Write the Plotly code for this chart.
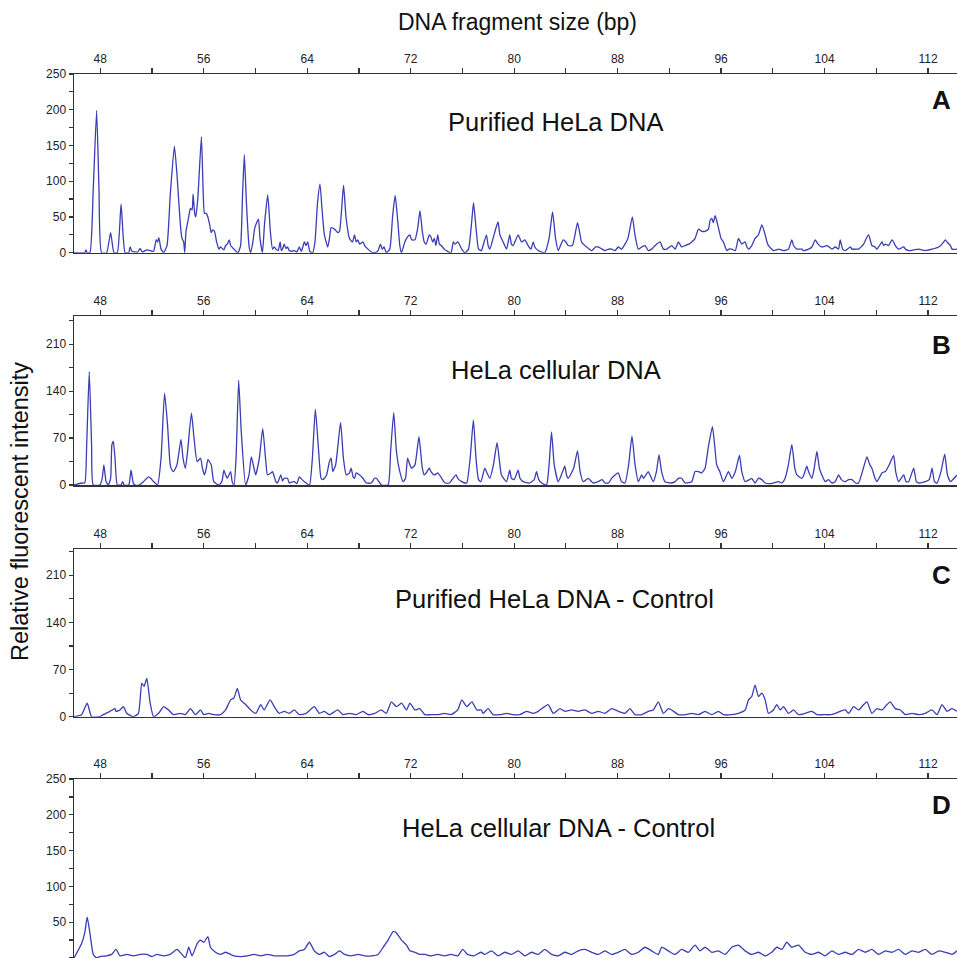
import plotly.graph_objects as go

# ---------------- data ----------------
a_bp = [45.97, 46.80, 46.89, 46.99, 47.20, 47.46, 47.72, 47.90, 48.10, 48.49, 48.80, 49.06, 49.32, 49.61, 49.92,
        50.20, 50.31, 50.45, 50.90, 51.08, 51.25, 51.60, 51.86, 52.12, 52.33, 52.43, 52.53, 52.70, 52.90, 53.16,
        53.41, 53.73, 53.93, 54.19, 54.32, 54.45, 54.53, 54.63, 54.84, 54.97, 55.10, 55.18, 55.30, 55.38, 55.54,
        55.82, 55.95, 56.06, 56.20, 56.32, 56.45, 56.58, 56.70, 56.83, 57.00, 57.17, 57.30, 57.56, 57.69, 57.82,
        57.97, 58.08, 58.34, 58.50, 58.65, 58.85, 59.00, 59.14, 59.30, 59.50, 59.63, 59.80, 59.95, 60.23, 60.35,
        60.54, 60.70, 60.95, 61.15, 61.32, 61.45, 61.58, 61.75, 61.91, 62.00, 62.09, 62.22, 62.35, 62.48, 62.61,
        62.80, 63.00, 63.20, 63.39, 63.55, 63.78, 63.91, 64.04, 64.20, 64.42, 64.60, 64.80, 64.99, 65.15, 65.33,
        65.59, 65.72, 65.85, 66.11, 66.37, 66.50, 66.81, 67.00, 67.27, 67.50, 67.66, 67.79, 67.92, 68.05, 68.31,
        68.44, 68.70, 68.96, 69.22, 69.48, 69.66, 69.80, 69.94, 70.12, 70.38, 70.60, 70.80, 71.00, 71.16, 71.29,
        71.55, 71.76, 71.94, 72.07, 72.33, 72.55, 72.72, 72.90, 73.05, 73.20, 73.44, 73.57, 73.70, 73.83, 73.95,
        74.09, 74.22, 74.35, 74.61, 74.74, 75.12, 75.30, 75.44, 75.64, 75.95, 76.20, 76.47, 76.70, 76.86, 77.05,
        77.25, 77.47, 77.60, 77.86, 77.99, 78.12, 78.37, 78.60, 78.76, 78.90, 79.15, 79.41, 79.66, 79.79, 79.92,
        80.31, 80.57, 80.83, 81.08, 81.30, 81.47, 81.60, 81.86, 82.37, 82.70, 82.97, 83.20, 83.41, 83.79, 84.00,
        84.18, 84.50, 84.90, 85.10, 85.21, 85.60, 85.99, 86.30, 86.50, 86.80, 87.02, 87.30, 87.54, 87.80, 88.05,
        88.30, 88.57, 88.80, 89.14, 89.34, 89.60, 89.86, 90.12, 90.37, 90.63, 90.90, 91.28, 91.54, 91.80, 92.18,
        92.45, 92.70, 92.95, 93.21, 93.50, 93.73, 93.99, 94.25, 94.50, 94.76, 95.02, 95.15, 95.28, 95.40, 95.54,
        95.66, 95.79, 96.00, 96.18, 96.44, 96.60, 96.83, 97.10, 97.34, 97.50, 97.60, 97.86, 98.00, 98.12, 98.37,
        98.63, 98.89, 99.15, 99.41, 99.55, 99.66, 100.05, 100.44, 100.83, 101.21, 101.47, 101.60, 101.86, 102.25,
        102.37, 102.76, 103.02, 103.28, 103.50, 103.79, 104.20, 104.57, 104.83, 105.08, 105.21, 105.40, 105.60,
        106.00, 106.12, 106.50, 106.63, 107.02, 107.28, 107.41, 107.66, 107.90, 108.05, 108.44, 108.57, 108.70,
        108.95, 109.21, 109.34, 109.47, 109.73, 110.12, 110.25, 110.50, 110.90, 111.28, 111.79, 112.31, 112.83,
        113.08, 113.34, 113.47, 113.73, 113.86, 114.24]
a_val = [0, 0, 4, 0, 0, 90, 199, 90, 0, 0, 28, 0, 0, 68, 0,
         0, 8, 2, 1, 6, 1, 4, 3, 2, 18, 15, 21, 5, 0, 10,
         80, 149, 110, 40, 20, 15, 0, 30, 50, 62, 60, 82, 55, 50, 75,
         162, 90, 55, 55, 50, 40, 28, 32, 30, 15, 5, 8, 4, 10, 12,
         18, 10, 5, 2, 0, 10, 80, 137, 70, 10, 0, 15, 35, 47, 20,
         0, 40, 81, 30, 5, 8, 5, 3, 15, 3, 5, 12, 6, 8, 3,
         2, 3, 1, 8, 2, 15, 10, 15, 2, 0, 15, 70, 96, 60, 25,
         8, 20, 35, 33, 28, 30, 94, 50, 20, 15, 25, 15, 18, 12, 15,
         10, 5, 1, 0, 3, 12, 5, 8, 0, 5, 50, 80, 45, 10, 0,
         15, 22, 25, 18, 18, 35, 59, 30, 15, 12, 25, 22, 15, 20, 10,
         25, 12, 10, 5, 3, 0, 15, 12, 15, 5, 0, 5, 40, 70, 35,
         5, 3, 10, 25, 10, 5, 20, 35, 43, 25, 15, 5, 25, 12, 10,
         25, 15, 18, 10, 5, 15, 8, 3, 0, 20, 57, 20, 3, 18, 15,
         10, 10, 42, 25, 15, 8, 3, 8, 8, 5, 3, 5, 5, 3, 8,
         5, 12, 20, 50, 25, 5, 8, 10, 3, 5, 10, 15, 5, 5, 10,
         5, 15, 8, 10, 12, 15, 20, 33, 30, 30, 33, 45, 48, 42, 52,
         45, 35, 20, 15, 3, 5, 5, 3, 20, 15, 12, 15, 8, 5, 10,
         20, 25, 39, 25, 15, 10, 3, 5, 3, 5, 18, 10, 5, 5,
         3, 5, 8, 18, 12, 8, 10, 5, 8, 5, 18, 5, 3,
         8, 5, 5, 5, 12, 22, 25, 10, 8, 5, 15, 10, 12,
         10, 18, 15, 10, 5, 8, 5, 3, 4, 5, 3, 5, 8,
         12, 18, 15, 10, 5, 5]

b_bp = [45.97, 46.55, 46.80, 46.95, 47.15, 47.33, 47.46, 47.97, 48.15, 48.28, 48.45, 48.62, 48.80, 48.90, 49.01,
        49.14, 49.32, 49.60, 49.74, 49.85, 50.20, 50.38, 50.55, 50.69, 51.00, 51.34, 51.73, 51.90, 52.12, 52.43,
        52.70, 52.97, 53.20, 53.41, 53.55, 53.67, 53.93, 54.24, 54.40, 54.58, 54.75, 55.05, 55.25, 55.49, 55.75,
        55.90, 56.06, 56.20, 56.32, 56.58, 56.78, 57.17, 57.40, 57.56, 57.69, 57.82, 58.08, 58.20, 58.34, 58.50,
        58.70, 58.90, 59.24, 59.50, 59.68, 59.89, 60.02, 60.30, 60.56, 60.80, 60.93, 61.20, 61.32, 61.58, 61.70,
        61.96, 62.09, 62.22, 62.48, 62.61, 62.74, 63.00, 63.20, 63.39, 63.60, 63.78, 64.17, 64.40, 64.63, 64.85,
        65.07, 65.20, 65.33, 65.50, 65.72, 65.85, 65.98, 66.20, 66.58, 66.80, 67.02, 67.27, 67.40, 67.55, 67.66,
        67.79, 68.05, 68.31, 68.57, 68.96, 69.20, 69.35, 69.74, 70.25, 70.45, 70.69, 70.90, 71.16, 71.42, 71.60,
        71.76, 71.94, 72.07, 72.33, 72.64, 72.90, 73.05, 73.20, 73.44, 73.57, 73.83, 74.09, 74.22, 74.40, 74.56,
        74.70, 74.99, 75.20, 75.51, 75.64, 75.95, 76.20, 76.34, 76.60, 76.85, 77.05, 77.25, 77.43, 77.73, 77.90,
        78.12, 78.40, 78.68, 78.90, 79.02, 79.41, 79.66, 79.79, 80.00, 80.31, 80.45, 80.70, 81.21, 81.55, 81.73,
        81.90, 82.12, 82.50, 82.70, 82.89, 83.10, 83.41, 83.75, 83.92, 84.05, 84.18, 84.60, 84.90, 85.10, 85.34,
        85.73, 85.99, 86.12, 86.50, 86.80, 87.02, 87.30, 87.54, 87.80, 88.05, 88.30, 88.57, 88.85, 89.11, 89.35,
        89.60, 89.86, 90.00, 90.37, 90.50, 90.76, 91.00, 91.20, 91.40, 91.66, 92.18, 92.45, 92.70, 92.95, 93.21,
        93.73, 93.99, 94.25, 94.50, 94.76, 95.00, 95.33, 95.50, 95.66, 95.90, 96.18, 96.57, 96.83, 97.10, 97.42,
        97.60, 97.86, 98.20, 98.37, 98.63, 98.89, 99.15, 99.41, 99.80, 100.05, 100.44, 100.70, 100.95, 101.20,
        101.47, 101.70, 101.86, 102.25, 102.40, 102.63, 102.76, 103.02, 103.20, 103.41, 103.60, 103.79, 104.05,
        104.31, 104.57, 104.83, 105.08, 105.30, 105.60, 105.86, 106.12, 106.40, 106.63, 107.00, 107.28, 107.50,
        107.66, 107.90, 108.05, 108.44, 108.70, 109.00, 109.34, 109.50, 109.73, 110.12, 110.30, 110.50, 110.89,
        111.10, 111.28, 111.79, 112.10, 112.31, 112.50, 112.70, 113.00, 113.29, 113.50, 113.73, 114.00, 114.24]
b_val = [0, 3, 3, 60, 169, 60, 0, 0, 10, 30, 5, 0, 10, 60, 65,
         40, 0, 0, 5, 0, 0, 22, 3, 0, 0, 5, 12, 10, 5, 0,
         40, 137, 90, 30, 22, 20, 30, 68, 40, 25, 50, 107, 70, 35, 40,
         25, 15, 25, 38, 30, 5, 0, 5, 22, 15, 10, 20, 5, 0, 40,
         156, 80, 0, 15, 42, 25, 15, 40, 84, 35, 15, 18, 20, 5, 3,
         15, 6, 10, 10, 3, 4, 5, 2, 12, 8, 5, 0, 40, 113, 60,
         10, 8, 10, 15, 35, 40, 20, 30, 93, 40, 15, 18, 25, 12, 10,
         18, 15, 10, 3, 3, 10, 10, 0, 0, 50, 108, 50, 20, 5, 10,
         40, 30, 25, 30, 72, 25, 15, 18, 25, 20, 15, 18, 15, 10, 5,
         3, 3, 8, 15, 10, 5, 3, 3, 40, 97, 40, 8, 5, 25, 18,
         10, 30, 63, 30, 15, 5, 22, 10, 8, 22, 10, 5, 3, 8, 20,
         8, 3, 0, 30, 79, 30, 5, 20, 28, 15, 10, 25, 51, 20, 5,
         10, 5, 3, 5, 8, 3, 3, 10, 15, 18, 5, 3, 30, 73, 30,
         5, 15, 10, 20, 15, 5, 20, 45, 20, 5, 3, 5, 10, 10, 3,
         5, 20, 20, 18, 25, 55, 87, 60, 30, 20, 5, 20, 10, 20, 44,
         20, 5, 8, 10, 3, 10, 8, 3, 2, 3, 5, 3, 10, 30,
         60, 25, 15, 10, 15, 28, 20, 10, 25, 50, 25, 15, 5,
         8, 3, 5, 15, 8, 5, 8, 8, 3, 3, 25, 42, 30,
         25, 10, 5, 18, 20, 30, 44, 20, 5, 15, 5, 5, 25,
         5, 3, 5, 8, 25, 5, 3, 20, 46, 15, 5, 10, 15]

c_bp = [45.97, 46.55, 46.99, 47.33, 47.97, 48.23, 48.75, 49.14, 49.22, 49.53, 49.79, 50.05, 50.56, 50.95, 51.21,
        51.39, 51.60, 51.86, 52.12, 52.51, 52.90, 53.28, 53.67, 54.19, 54.58, 54.97, 55.36, 55.75, 56.01, 56.40,
        56.78, 57.30, 57.69, 58.08, 58.34, 58.60, 58.85, 59.24, 59.63, 60.02, 60.41, 60.67, 61.13, 61.45, 61.83,
        62.22, 62.61, 63.00, 63.39, 63.91, 64.55, 64.94, 65.33, 65.72, 66.37, 66.76, 67.27, 67.79, 68.31, 68.70,
        69.22, 69.74, 70.12, 70.51, 70.90, 71.29, 71.68, 71.94, 72.33, 72.70, 73.10, 73.57, 74.09, 74.61, 75.12,
        75.64, 75.95, 76.34, 76.73, 77.12, 77.47, 77.60, 77.99, 78.37, 78.90, 79.41, 79.92, 80.44, 80.96, 81.47,
        81.86, 82.63, 83.02, 83.54, 83.92, 84.44, 84.95, 85.47, 85.99, 86.50, 87.02, 87.54, 88.05, 88.57, 88.95,
        89.34, 89.86, 90.37, 90.76, 91.15, 91.54, 91.92, 92.18, 92.70, 93.21, 93.73, 94.25, 94.76, 95.28, 95.79,
        96.18, 96.83, 97.34, 97.86, 98.12, 98.37, 98.63, 98.89, 99.15, 99.41, 99.66, 100.05, 100.31, 100.57, 100.83,
        101.21, 101.60, 101.99, 102.50, 103.02, 103.41, 103.92, 104.44, 104.83, 105.21, 105.60, 105.86, 106.25,
        106.63, 107.02, 107.28, 107.66, 108.05, 108.44, 108.83, 109.08, 109.47, 109.86, 110.25, 110.76, 111.28,
        111.79, 112.31, 112.70, 113.08, 113.47, 113.86, 114.24]
c_val = [0, 3, 20, 0, 0, 3, 8, 12, 8, 10, 15, 5, 0, 5, 50,
         45, 57, 20, 0, 5, 15, 10, 3, 5, 3, 12, 3, 10, 3, 5,
         3, 3, 10, 25, 28, 42, 25, 18, 10, 5, 18, 10, 25, 15, 5,
         8, 5, 10, 3, 5, 15, 5, 8, 3, 10, 3, 5, 3, 8, 3,
         5, 10, 5, 22, 15, 20, 10, 20, 10, 12, 3, 3, 3, 5, 3,
         10, 25, 15, 22, 10, 10, 5, 12, 3, 3, 5, 3, 3, 8, 5,
         8, 18, 5, 12, 8, 10, 8, 10, 5, 8, 5, 12, 8, 5, 12,
         3, 3, 8, 10, 22, 5, 12, 10, 3, 3, 5, 3, 8, 3, 8,
         3, 3, 5, 10, 25, 30, 47, 30, 35, 25, 5, 10, 18, 10, 15,
         5, 10, 3, 5, 8, 3, 3, 3, 5, 8, 10, 5, 15,
         10, 18, 22, 5, 12, 10, 18, 22, 12, 10, 3, 5, 3,
         5, 10, 3, 18, 8, 12, 8]

d_bp = [45.97, 46.55, 46.80, 46.99, 47.20, 47.46, 47.72, 47.97, 48.49, 48.88, 49.22, 49.53, 50.05, 50.56, 51.08,
        51.60, 51.99, 52.38, 52.90, 53.41, 53.93, 54.32, 54.58, 54.84, 55.10, 55.49, 55.75, 56.01, 56.32, 56.52,
        56.91, 57.30, 57.69, 58.08, 58.34, 58.85, 59.37, 59.89, 60.41, 60.93, 61.45, 61.96, 62.48, 63.00, 63.39,
        63.78, 64.17, 64.55, 64.94, 65.33, 65.72, 66.11, 66.50, 66.89, 67.40, 67.92, 68.44, 68.96, 69.48, 69.87,
        70.25, 70.64, 70.90, 71.29, 71.68, 71.94, 72.33, 72.72, 73.10, 73.57, 74.09, 74.61, 75.12, 75.64, 76.02,
        76.40, 76.90, 77.43, 77.73, 78.25, 78.76, 79.28, 79.79, 80.31, 80.83, 81.34, 81.86, 82.37, 82.89, 83.41,
        83.92, 84.44, 84.95, 85.47, 85.99, 86.50, 87.02, 87.54, 88.05, 88.57, 89.08, 89.60, 90.12, 90.63, 91.15,
        91.41, 91.92, 92.44, 92.95, 93.47, 93.99, 94.37, 94.76, 95.28, 95.79, 96.31, 96.83, 97.34, 97.86, 98.37,
        98.89, 99.41, 99.92, 100.31, 100.70, 101.08, 101.47, 101.99, 102.50, 103.02, 103.54, 104.05, 104.57,
        105.08, 105.60, 106.12, 106.63, 107.15, 107.66, 108.18, 108.70, 109.21, 109.73, 110.25, 110.76, 111.28,
        111.79, 112.31, 112.83, 113.34, 113.86, 114.24]
d_val = [0, 20, 35, 57, 35, 5, 0, 2, 3, 5, 12, 3, 5, 3, 5,
         5, 2, 5, 3, 5, 12, 5, 0, 15, 3, 20, 25, 22, 30, 15,
         8, 5, 8, 5, 3, 2, 3, 5, 3, 5, 3, 3, 3, 5, 10,
         12, 22, 10, 5, 8, 2, 5, 10, 5, 3, 5, 3, 3, 5, 15,
         25, 37, 35, 25, 18, 10, 8, 5, 5, 3, 5, 3, 5, 3, 12,
         5, 3, 8, 5, 10, 3, 8, 5, 10, 3, 8, 5, 12, 5, 3,
         8, 5, 10, 12, 8, 5, 10, 5, 8, 12, 5, 8, 15, 10, 5,
         15, 10, 5, 12, 8, 18, 10, 15, 8, 10, 5, 15, 18, 10, 5,
         8, 3, 8, 15, 12, 22, 15, 18, 8, 5, 8, 3, 10,
         5, 8, 5, 12, 8, 12, 5, 10, 8, 12, 5, 10, 8,
         12, 5, 10, 8, 5, 10]

panel_titles = ["Purified HeLa DNA", "HeLa cellular DNA",
                "Purified HeLa DNA - Control", "HeLa cellular DNA - Control"]
panel_letters = ["A", "B", "C", "D"]
x_major = [48, 56, 64, 72, 80, 88, 96, 104, 112]
x_minor = [52, 60, 68, 76, 84, 92, 100, 108, 116]
y_major_ab = [0, 50, 100, 150, 200, 250]
y_minor_ab = [25, 75, 125, 175, 225]
y_major_bc = [0, 70, 140, 210]
y_minor_bc = [35, 105, 175, 245]

series = [(a_bp, a_val), (b_bp, b_val), (c_bp, c_val), (d_bp, d_val)]

# ---------------- layout geometry ----------------
W, H = 957, 958
X0 = 74 / W
panel_px = [(74, 252.7), (316, 485), (549, 716.7), (779, 958)]
y_ranges = [[0, 250], [0, 252], [0, 249], [0, 250]]
y_ticks = [(y_major_ab, y_minor_ab), (y_major_bc, y_minor_bc),
           (y_major_bc, y_minor_bc), (y_major_ab, y_minor_ab)]
title_px = [(555, 122), (556, 370), (554, 599), (558, 828)]
letter_px = [(941, 100), (941, 345), (941, 575), (941, 805)]

tick_font = dict(family="Liberation Sans, Arial", size=12, color="#222222")
axis_col = "#333333"
line_col = "#3a3db3"

fig = go.Figure()
layout = dict(
    width=W, height=H,
    margin=dict(l=0, r=0, t=0, b=0, autoexpand=False),
    paper_bgcolor="white", plot_bgcolor="white",
    showlegend=False,
    font=dict(family="Liberation Sans, Arial", color="#111111"),
)
annotations = []
for i, ((xs, ys), (top, bot), yr, (ymaj, ymin)) in enumerate(zip(series, panel_px, y_ranges, y_ticks)):
    n = i + 1
    fig.add_trace(go.Scatter(x=xs, y=ys, mode="lines",
                             line=dict(color=line_col, width=1.3, shape="spline", smoothing=0.5),
                             xaxis=f"x{n}", yaxis=f"y{n}", hoverinfo="skip"))
    layout[f"xaxis{n}"] = dict(
        domain=[X0, 1], range=[45.97, 114.24], anchor=f"y{n}", side="top", automargin=False,
        showline=True, linecolor=axis_col, linewidth=1.5, mirror=True,
        ticks="outside", ticklen=5, tickwidth=1.2, tickcolor=axis_col,
        tickvals=x_major, ticktext=[str(v) for v in x_major],
        minor=dict(tickvals=x_minor, ticks="outside", ticklen=5, tickwidth=1.2, tickcolor=axis_col),
        showgrid=False, zeroline=False, tickfont=tick_font, fixedrange=True,
    )
    layout[f"yaxis{n}"] = dict(
        domain=[1 - bot / H, 1 - top / H], range=yr, anchor=f"x{n}", automargin=False,
        showline=True, linecolor=axis_col, linewidth=1.5,
        ticks="outside", ticklen=4, tickwidth=1.2, tickcolor=axis_col,
        tickvals=ymaj, ticktext=[str(v) for v in ymaj],
        minor=dict(tickvals=ymin, ticks="outside", ticklen=4, tickwidth=1.2, tickcolor=axis_col),
        showgrid=False, zeroline=False, tickfont=tick_font, fixedrange=True,
    )
    tx, ty = title_px[i]
    annotations.append(dict(text=panel_titles[i], x=tx / W, y=1 - ty / H, xref="paper", yref="paper",
                            xanchor="center", yanchor="middle", showarrow=False,
                            font=dict(family="Liberation Sans, Arial", size=25.5, color="#111111")))
    lx, ly = letter_px[i]
    annotations.append(dict(text=f"<b>{panel_letters[i]}</b>", x=lx / W, y=1 - ly / H, xref="paper", yref="paper",
                            xanchor="center", yanchor="middle", showarrow=False,
                            font=dict(family="Liberation Sans, Arial", size=26, color="#111111")))

annotations.append(dict(text="DNA fragment size (bp)", x=517 / W, y=1 - 22 / H, xref="paper", yref="paper",
                        xanchor="center", yanchor="middle", showarrow=False,
                        font=dict(family="Liberation Sans, Arial", size=23, color="#111111")))
annotations.append(dict(text="Relative fluorescent intensity", x=20 / W, y=1 - 512 / H, xref="paper", yref="paper",
                        xanchor="center", yanchor="middle", showarrow=False, textangle=-90,
                        font=dict(family="Liberation Sans, Arial", size=23.5, color="#111111")))
layout["annotations"] = annotations
fig.update_layout(**layout)
fig.write_html("out.html", config={"displayModeBar": False, "staticPlot": True},
               post_script="document.body.style.margin='0';document.body.style.overflow='hidden';")
